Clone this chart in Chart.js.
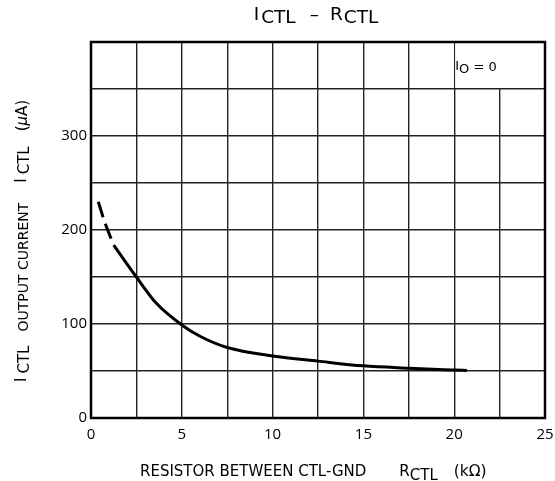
<!DOCTYPE html>
<html>
<head>
<meta charset="utf-8">
<script src="https://cdn.jsdelivr.net/npm/chart.js@4/dist/chart.umd.min.js"></script>
<style>
  html, body { margin: 0; padding: 0; background: #fff; }
  #wrap { width: 555px; height: 481px; }
</style>
</head>
<body>
<div id="wrap"><canvas id="c" width="555" height="481"></canvas></div>
<script>
// ICTL vs RCTL, IO = 0
const dashR = [0.4, 0.8, 1.25];
const dashI = [230, 206, 184];
const solidR = [1.25, 2.5, 3.6, 5, 6, 7.5, 10, 12.5, 15, 17.5, 20, 20.7];
const solidI = [184, 150, 122, 99, 87, 75, 66, 60.5, 55.5, 53, 51, 50.5];

const xTickLabels = [0, 5, 10, 15, 20, 25];
const yTickLabels = [0, 100, 200, 300];

const TICK_FONT = "'Open Sans', 'DejaVu Sans', sans-serif";
const FONT = "'DejaVu Sans', sans-serif";

function toPoints(xs, ys) {
    return xs.map((x, i) => ({ x: x, y: ys[i] }));
}

// draws a row of text pieces; each piece can be shifted up/down (dy)
function drawRuns(ctx, runs, x, y, align) {
    let total = 0;
    runs.forEach(r => {
        if (r.gap) { total += r.gap; return; }
        ctx.font = (r.style || '') + ' ' + r.size + 'px ' + FONT;
        r.w = ctx.measureText(r.text).width;
        total += r.w;
    });
    let cx = align === 'left' ? x : x - total / 2;
    ctx.textAlign = 'left';
    ctx.textBaseline = 'alphabetic';
    runs.forEach(r => {
        if (r.gap) { cx += r.gap; return; }
        ctx.font = (r.style || '') + ' ' + r.size + 'px ' + FONT;
        ctx.fillText(r.text, cx, y + (r.dy || 0));
        cx += r.w;
    });
}

const framePlugin = {
    id: 'frame',
    beforeDatasetsDraw(chart) {
        const ctx = chart.ctx;
        const a = chart.chartArea;
        const xs = chart.scales.x, ys = chart.scales.y;
        const x20 = xs.getPixelForValue(20);
        const y350 = ys.getPixelForValue(350);
        ctx.save();
        // the upper right cell holds the condition note, no grid inside
        ctx.fillStyle = '#fff';
        ctx.fillRect(x20 + 1, a.top, a.right - x20 - 1, y350 - a.top - 1);
        ctx.strokeStyle = '#000';
        ctx.lineWidth = 2.5;
        ctx.strokeRect(a.left, a.top, a.right - a.left, a.bottom - a.top);
        ctx.fillStyle = '#000';
        drawRuns(ctx, [
            { text: 'I', size: 13, dy: -3 },
            { text: 'O', size: 13 },
            { text: ' = 0', size: 13, dy: -2 }
        ], x20 + 1, y350 - 16, 'left');
        ctx.restore();
    },
    afterDraw(chart) {
        const ctx = chart.ctx;
        ctx.save();
        ctx.fillStyle = '#000';
        // title
        drawRuns(ctx, [
            { text: 'I', size: 18.5, dy: -3 },
            { gap: 2 },
            { text: 'CTL', size: 18.5 },
            { gap: 14 },
            { text: '–', size: 18.5, dy: -3 },
            { gap: 11 },
            { text: 'R', size: 18.5, dy: -3 },
            { gap: 1 },
            { text: 'CTL', size: 18.5 }
        ], 316, 23, 'center');
        // x axis title
        drawRuns(ctx, [
            { text: 'RESISTOR BETWEEN CTL-GND', size: 15 },
            { gap: 33 },
            { text: 'R', size: 15 },
            { text: 'CTL', size: 15, dy: 4 },
            { gap: 16 },
            { text: '(k\u03A9)', size: 15.5 }
        ], 140, 476, 'left');
        // y axis title, rotated, reading bottom to top
        ctx.translate(28.5, 0);
        ctx.rotate(-Math.PI / 2);
        drawRuns(ctx, [
            { text: 'I', size: 15, dy: -3 },
            { gap: 4 },
            { text: 'CTL', size: 15 },
            { gap: 14 },
            { text: 'OUTPUT CURRENT', size: 14, dy: -1 },
            { gap: 20 },
            { text: 'I', size: 15, dy: -3 },
            { gap: 4 },
            { text: 'CTL', size: 15 },
            { gap: 15 },
            { text: '(', size: 15, dy: -2 },
            { text: '\u03BC', size: 15, style: 'italic', dy: -2 },
            { text: 'A)', size: 15, dy: -2 }
        ], -382, 0, 'left');
        ctx.restore();
    }
};

new Chart(document.getElementById('c'), {
    type: 'scatter',
    data: {
        datasets: [
            {
                data: toPoints(dashR, dashI),
                showLine: true,
                borderColor: '#000',
                borderWidth: 3,
                borderDash: [16, 7],
                pointRadius: 0,
                cubicInterpolationMode: 'monotone'
            },
            {
                data: toPoints(solidR, solidI),
                showLine: true,
                borderColor: '#000',
                borderWidth: 3,
                pointRadius: 0,
                cubicInterpolationMode: 'monotone'
            }
        ]
    },
    options: {
        responsive: false,
        animation: false,
        events: [],
        layout: { padding: { top: 42, right: 10, left: 0, bottom: 0 } },
        plugins: {
            legend: { display: false },
            tooltip: { enabled: false }
        },
        scales: {
            x: {
                type: 'linear',
                min: 0,
                max: 25,
                afterFit(scale) {
                    scale.height = 63;
                    // the last label may hang past the frame
                    scale.paddingLeft = 0;
                    scale.paddingRight = 0;
                },
                ticks: {
                    stepSize: 2.5,
                    autoSkip: false,
                    maxRotation: 0,
                    padding: 8,
                    color: '#000',
                    font: { family: TICK_FONT, size: 15 },
                    callback: v => xTickLabels.includes(v) ? String(v) : ''
                },
                grid: { color: '#222', lineWidth: 1.4, drawTicks: false },
                border: { display: false }
            },
            y: {
                type: 'linear',
                min: 0,
                max: 400,
                afterFit(scale) {
                    scale.width = 91;
                    scale.paddingTop = 0;
                    scale.paddingBottom = 0;
                },
                ticks: {
                    stepSize: 50,
                    autoSkip: false,
                    padding: 4,
                    color: '#000',
                    font: { family: TICK_FONT, size: 15 },
                    callback: v => yTickLabels.includes(v) ? String(v) : ''
                },
                grid: { color: '#222', lineWidth: 1.4, drawTicks: false },
                border: { display: false }
            }
        }
    },
    plugins: [framePlugin]
});
</script>
</body>
</html>
